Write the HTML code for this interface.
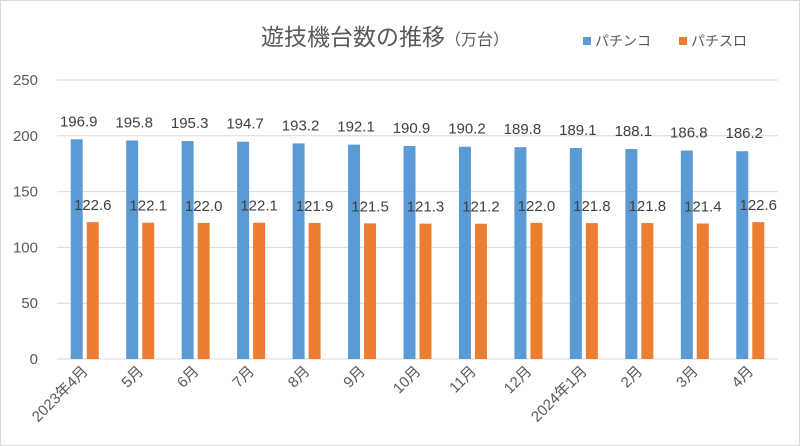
<!DOCTYPE html>
<html><head><meta charset="utf-8"><style>
html,body{margin:0;padding:0;background:#fff}
svg{display:block;font-family:"Liberation Sans","Noto Sans CJK JP",sans-serif}
</style></head><body>
<svg width="800" height="446" xmlns="http://www.w3.org/2000/svg">
<rect x="0.5" y="0.5" width="799" height="445" fill="#fff" stroke="#d9d9d9"/>
<text x="385" y="45" text-anchor="middle" font-size="23" fill="#595959">遊技機台数の推移<tspan font-size="16">（万台）</tspan></text>
<g>
<g><rect x="583" y="37" width="8" height="8" fill="#5b9bd5"/><text x="595" y="46" font-size="14" fill="#595959">パチンコ</text></g>
<g><rect x="679" y="37" width="8" height="8" fill="#ed7d31"/><text x="691" y="46" font-size="14" fill="#595959">パチスロ</text></g>
</g>
<g id="grid"></g>
<g id="yt"></g>
<g id="bars"></g>
<g id="xt"></g>
</svg>
<script>
const categories=["2023年4月","5月","6月","7月","8月","9月","10月","11月","12月","2024年1月","2月","3月","4月"];
const pachinko=[196.9,195.8,195.3,194.7,193.2,192.1,190.9,190.2,189.8,189.1,188.1,186.8,186.2];
const pachislot=[122.6,122.1,122.0,122.1,121.9,121.5,121.3,121.2,122.0,121.8,121.8,121.4,122.6];
const yTicks=[0,50,100,150,200,250];
const NS="http://www.w3.org/2000/svg";
const L=57,R=778,T=80,B=359,maxV=250;
const y=v=>B-(v/maxV)*(B-T);
const bw=(R-L)/categories.length;
const cx=i=>L+bw*(i+0.5);
function mk(tag,attrs,parent,txt){const e=document.createElementNS(NS,tag);for(const k in attrs)e.setAttribute(k,attrs[k]);if(txt!==undefined)e.textContent=txt;parent.appendChild(e);return e;}
const grid=document.getElementById('grid'),yt=document.getElementById('yt'),bars=document.getElementById('bars'),xt=document.getElementById('xt');
yTicks.forEach(t=>{
 const l=mk('line',{x1:L,x2:R,y1:y(t),y2:y(t),stroke:'#d9d9d9','stroke-width':1},grid);
 
 
 const tx=mk('text',{x:38,y:y(t)+5,'text-anchor':'end','font-size':15,fill:'#595959'},yt,String(t));
 
 
});
categories.forEach((c,i)=>{
 const x=cx(i);
 const b1=mk('rect',{x:x-14,y:y(pachinko[i]),width:12,height:B-y(pachinko[i]),fill:'#5b9bd5'},bars);
 
 
 const b2=mk('rect',{x:x+2,y:y(pachislot[i]),width:12,height:B-y(pachislot[i]),fill:'#ed7d31'},bars);
 
 
 const t1=mk('text',{x:x-6,y:y(pachinko[i])-13,'text-anchor':'middle','font-size':15,fill:'#404040'},bars,pachinko[i].toFixed(1));
 
 
 const t2=mk('text',{x:x+8,y:y(pachislot[i])-12,'text-anchor':'middle','font-size':15,fill:'#404040'},bars,pachislot[i].toFixed(1));
 
 
 const xl=mk('text',{x:x+4,y:372,'text-anchor':'end','font-size':15,fill:'#595959',transform:`rotate(-45 ${x+4} 372)`},xt,c);
 
 
});
</script>
</body></html>
